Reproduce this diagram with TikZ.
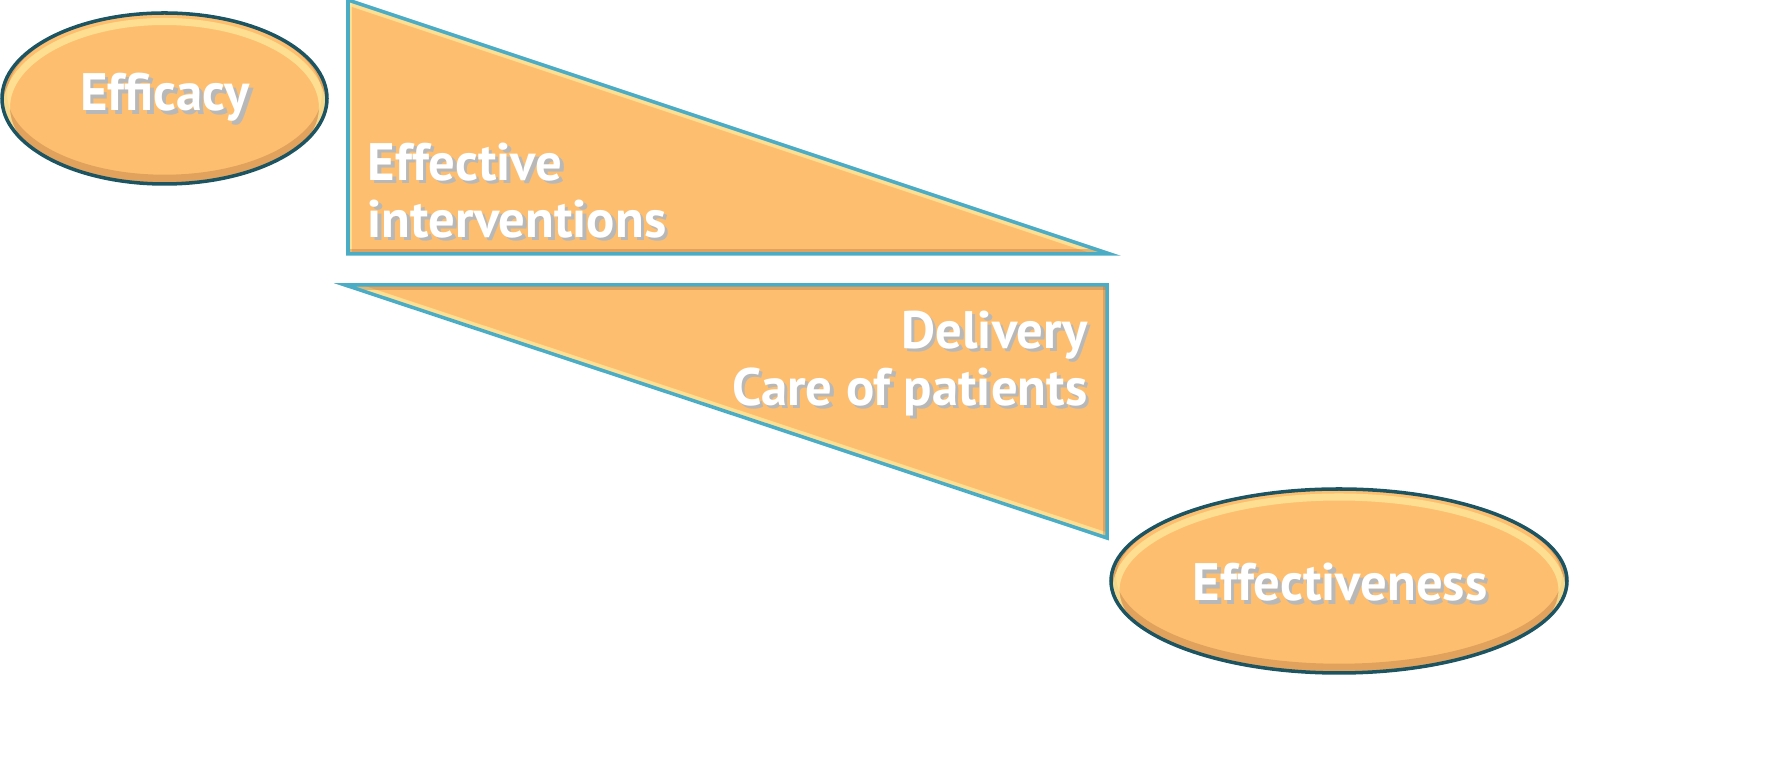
\documentclass[tikz,border=0pt]{standalone}
\usepackage{fontspec}
\setmainfont{PT Sans}
\definecolor{shapefill}{RGB}{253,191,111}
\definecolor{rimdark}{RGB}{28,84,98}
\definecolor{rimlight}{RGB}{75,172,198}
\definecolor{glow}{RGB}{255,238,160}
\definecolor{shade}{RGB}{170,110,60}

\tikzstyle{blob}=[fill=shapefill]
\tikzstyle{wedge}=[fill=shapefill]
\tikzstyle{bevlight}=[draw=glow,line width=2pt,opacity=0.7]
\tikzstyle{bevdark}=[draw=shade,line width=3pt,opacity=0.35]
\tikzstyle{word}=[text=white,inner sep=0pt,font=\bfseries\fontsize{15}{16.2}\selectfont]

\newcommand{\shd}[1]{\rlap{\kern1pt\raisebox{-1pt}{\textcolor{black!28}{#1}}}#1}

\begin{document}
\begin{tikzpicture}
\useasboundingbox (0,0) rectangle (17.86,7.71);
% Ovals

   \fill[blob] (1.645,6.725) coordinate(effc) ellipse (1.625 and 0.855);
   \begin{scope}
   \clip (effc) ellipse (1.625 and 0.855);
   \draw[bevdark] ([yshift=0.04cm]effc) ellipse (1.625 and 0.855);
   \draw[bevlight] ([yshift=-0.09cm]effc) ellipse (1.58 and 0.86);
   \end{scope}
   \draw[draw=rimdark,line width=1pt] (effc) ellipse (1.625 and 0.855);

   \fill[blob] (13.39,1.90) coordinate(effn) ellipse (2.28 and 0.92);
   \begin{scope}
   \clip (effn) ellipse (2.28 and 0.92);
   \draw[bevdark] ([yshift=0.04cm]effn) ellipse (2.28 and 0.92);
   \draw[bevlight] ([yshift=-0.09cm]effn) ellipse (2.23 and 0.93);
   \end{scope}
   \draw[draw=rimdark,line width=1pt] (effn) ellipse (2.28 and 0.92);

% Wedges

   \fill[wedge] (3.48,7.71) coordinate(w1t) -- (3.48,5.17) coordinate(w1bl)
-- (11.10,5.17) coordinate(w1br) -- cycle;
   \begin{scope}
   \clip (w1t) -- (w1bl) -- (w1br) -- cycle;
   \draw[bevlight,line width=3pt] (w1t) -- (w1br);
   \draw[bevlight] (w1t) -- (w1bl);
   \draw[bevdark] (w1bl) -- (w1br);
   \end{scope}
   \draw[draw=rimlight,line width=1pt] (w1t) -- (w1bl) -- (w1br) -- cycle;

   \fill[wedge] (3.45,4.86) coordinate(w2tl) -- (11.07,4.86) coordinate(w2tr)
-- (11.07,2.33) coordinate(w2b) -- cycle;
   \begin{scope}
   \clip (w2tl) -- (w2tr) -- (w2b) -- cycle;
   \draw[bevlight,line width=3pt] (w2tl) -- (w2b);
   \draw[bevdark] (w2tl) -- (w2tr);
   \draw[bevdark,line width=2pt] (w2tr) -- (w2b);
   \end{scope}
   \draw[draw=rimlight,line width=1pt] (w2tl) -- (w2tr) -- (w2b) -- cycle;

% Labels

   \node[word] (efficacy) at (1.65,6.72) {\shd{Efficacy}};
   \node[word,anchor=west,align=left] (interv) at (3.67,5.79)
{\shd{Effective}\\\shd{interventions}};
   \node[word,anchor=east,align=right] (deliv) at (10.88,4.06)
{\shd{Delivery}\\\shd{Care of patients}};
   \node[word] (effectiveness) at (13.40,1.87) {\shd{Effectiveness}};

\end{tikzpicture}
\end{document}
